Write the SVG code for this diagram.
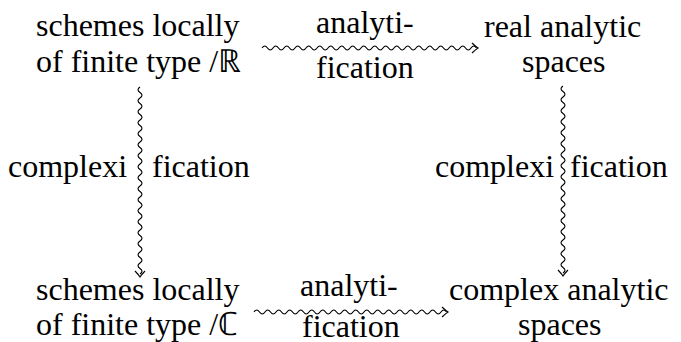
<svg xmlns="http://www.w3.org/2000/svg" width="681" height="342" viewBox="0 0 681 342">
<defs>
<path id="ah" d="M-6,-5 Q-2,-1.2 0,0 Q-2,1.2 -6,5" fill="none" stroke="#000" stroke-width="1.1"/>
</defs>
<rect width="681" height="342" fill="#fff"/>
<g id="n1">
<text x="36" y="36" font-size="32" font-family="Liberation Serif">schemes locally</text>
<text x="36" y="72" font-size="32" font-family="Liberation Serif">of finite type /ℝ</text>
</g>
<g id="n2">
<text x="484" y="37" font-size="32" font-family="Liberation Serif">real analytic</text>
<text x="522" y="72" font-size="32" font-family="Liberation Serif">spaces</text>
</g>
<g id="n3">
<text x="36" y="300" font-size="32" font-family="Liberation Serif">schemes locally</text>
<text x="36" y="335" font-size="32" font-family="Liberation Serif">of finite type /ℂ</text>
</g>
<g id="n4">
<text x="449" y="300" font-size="32" font-family="Liberation Serif">complex analytic</text>
<text x="518" y="335" font-size="32" font-family="Liberation Serif">spaces</text>
</g>
<g id="connectors" fill="none" stroke="#000" stroke-width="1.1">
<path d="M262,48 q2.75,-4 5.5,0 t5.5,0 t5.5,0 t5.5,0 t5.5,0 t5.5,0 t5.5,0 t5.5,0 t5.5,0 t5.5,0 t5.5,0 t5.5,0 t5.5,0 t5.5,0 t5.5,0 t5.5,0 t5.5,0 t5.5,0 t5.5,0 t5.5,0 t5.5,0 t5.5,0 t5.5,0 t5.5,0 t5.5,0 t5.5,0 t5.5,0 t5.5,0 t5.5,0 t5.5,0 t5.5,0 t5.5,0 t5.5,0 t5.5,0 t5.5,0 t5.5,0 t5.5,0 t5.5,0 t5.5,0"/>
<use href="#ah" transform="translate(478,48)"/>
<path d="M254,312 q2.75,-4 5.5,0 t5.5,0 t5.5,0 t5.5,0 t5.5,0 t5.5,0 t5.5,0 t5.5,0 t5.5,0 t5.5,0 t5.5,0 t5.5,0 t5.5,0 t5.5,0 t5.5,0 t5.5,0 t5.5,0 t5.5,0 t5.5,0 t5.5,0 t5.5,0 t5.5,0 t5.5,0 t5.5,0 t5.5,0 t5.5,0 t5.5,0 t5.5,0 t5.5,0 t5.5,0 t5.5,0 t5.5,0 t5.5,0 t5.5,0 t5.5,0"/>
<use href="#ah" transform="translate(448,312)"/>
<path d="M140,87 q-4,2.75 0,5.5 t0,5.5 t0,5.5 t0,5.5 t0,5.5 t0,5.5 t0,5.5 t0,5.5 t0,5.5 t0,5.5 t0,5.5 t0,5.5 t0,5.5 t0,5.5 t0,5.5 t0,5.5 t0,5.5 t0,5.5 t0,5.5 t0,5.5 t0,5.5 t0,5.5 t0,5.5 t0,5.5 t0,5.5 t0,5.5 t0,5.5 t0,5.5 t0,5.5 t0,5.5 t0,5.5 t0,5.5 t0,5.5 t0,5.5"/>
<use href="#ah" transform="translate(140,277) rotate(90)"/>
<path d="M563,86 q-4,2.75 0,5.5 t0,5.5 t0,5.5 t0,5.5 t0,5.5 t0,5.5 t0,5.5 t0,5.5 t0,5.5 t0,5.5 t0,5.5 t0,5.5 t0,5.5 t0,5.5 t0,5.5 t0,5.5 t0,5.5 t0,5.5 t0,5.5 t0,5.5 t0,5.5 t0,5.5 t0,5.5 t0,5.5 t0,5.5 t0,5.5 t0,5.5 t0,5.5 t0,5.5 t0,5.5 t0,5.5 t0,5.5 t0,5.5 t0,5.5"/>
<use href="#ah" transform="translate(563,276) rotate(90)"/>
</g>
<g id="labels">
<text x="316" y="33" font-size="32" font-family="Liberation Serif">analyti-</text>
<text x="316" y="78" font-size="32" font-family="Liberation Serif">fication</text>
<text x="300" y="296" font-size="32" font-family="Liberation Serif">analyti-</text>
<text x="302" y="337" font-size="32" font-family="Liberation Serif">fication</text>
<text x="8" y="177" font-size="32" font-family="Liberation Serif">complexi</text>
<text x="152" y="177" font-size="32" font-family="Liberation Serif">fication</text>
<text x="435" y="177" font-size="32" font-family="Liberation Serif">complexi</text>
<text x="570" y="177" font-size="32" font-family="Liberation Serif">fication</text>
</g>
</svg>
